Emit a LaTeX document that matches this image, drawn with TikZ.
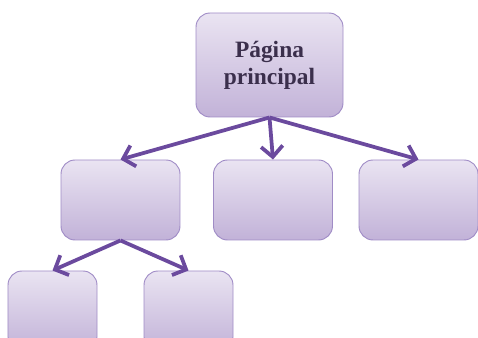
\documentclass[tikz,border=0pt]{standalone}
\usepackage{fontspec}
\setmainfont{Liberation Serif}
\usepackage{tikz}
\usetikzlibrary{arrows.meta, positioning}
\definecolor{boxtop}{HTML}{EAE4F2}
\definecolor{boxbot}{HTML}{C2B2D8}
\definecolor{boxline}{HTML}{A08CC6}
\definecolor{arrowpurple}{HTML}{6B4A9E}
\definecolor{labeltext}{HTML}{3B2F4C}
\tikzset{
    base/.style={draw=boxline, line width=0.8pt, font=\bfseries\fontsize{20}{23}\selectfont, text=labeltext, align=center},
    block/.style={base, rectangle, rounded corners=12pt, top color=boxtop, bottom color=boxbot, minimum width=3.57cm, minimum height=2.4cm},
    leaf/.style={block, minimum width=2.67cm},
    line/.style={draw=arrowpurple, line width=3.2pt, -{Straight Barb[length=3.2mm, width=6.5mm, line width=3.2pt]}}
}
\begin{document}
\begin{tikzpicture}
    \useasboundingbox (0,0) rectangle (14.34,10.14);
    \clip (0,0) rectangle (14.34,10.14);
    \node [block, minimum width=4.41cm, minimum height=3.12cm] (Home) at (8.085,8.19) {Página\\principal};

    \node [block] (SecA) at (3.615,4.14) {};
    \node [block] (SecB) at (8.19,4.14) {};
    \node [block] (SecC) at (12.555,4.14) {};

    \node [leaf] (SubA) at (1.575,0.81) {};
    \node [leaf] (SubB) at (5.655,0.81) {};

    \draw [line] (Home.south) -- (SecA.north);
    \draw [line] (Home.south) -- (SecB.north);
    \draw [line] (Home.south) -- (SecC.north);
    \draw [line] (SecA.south) -- (SubA.north);
    \draw [line] (SecA.south) -- (SubB.north);
\end{tikzpicture}
\end{document}
